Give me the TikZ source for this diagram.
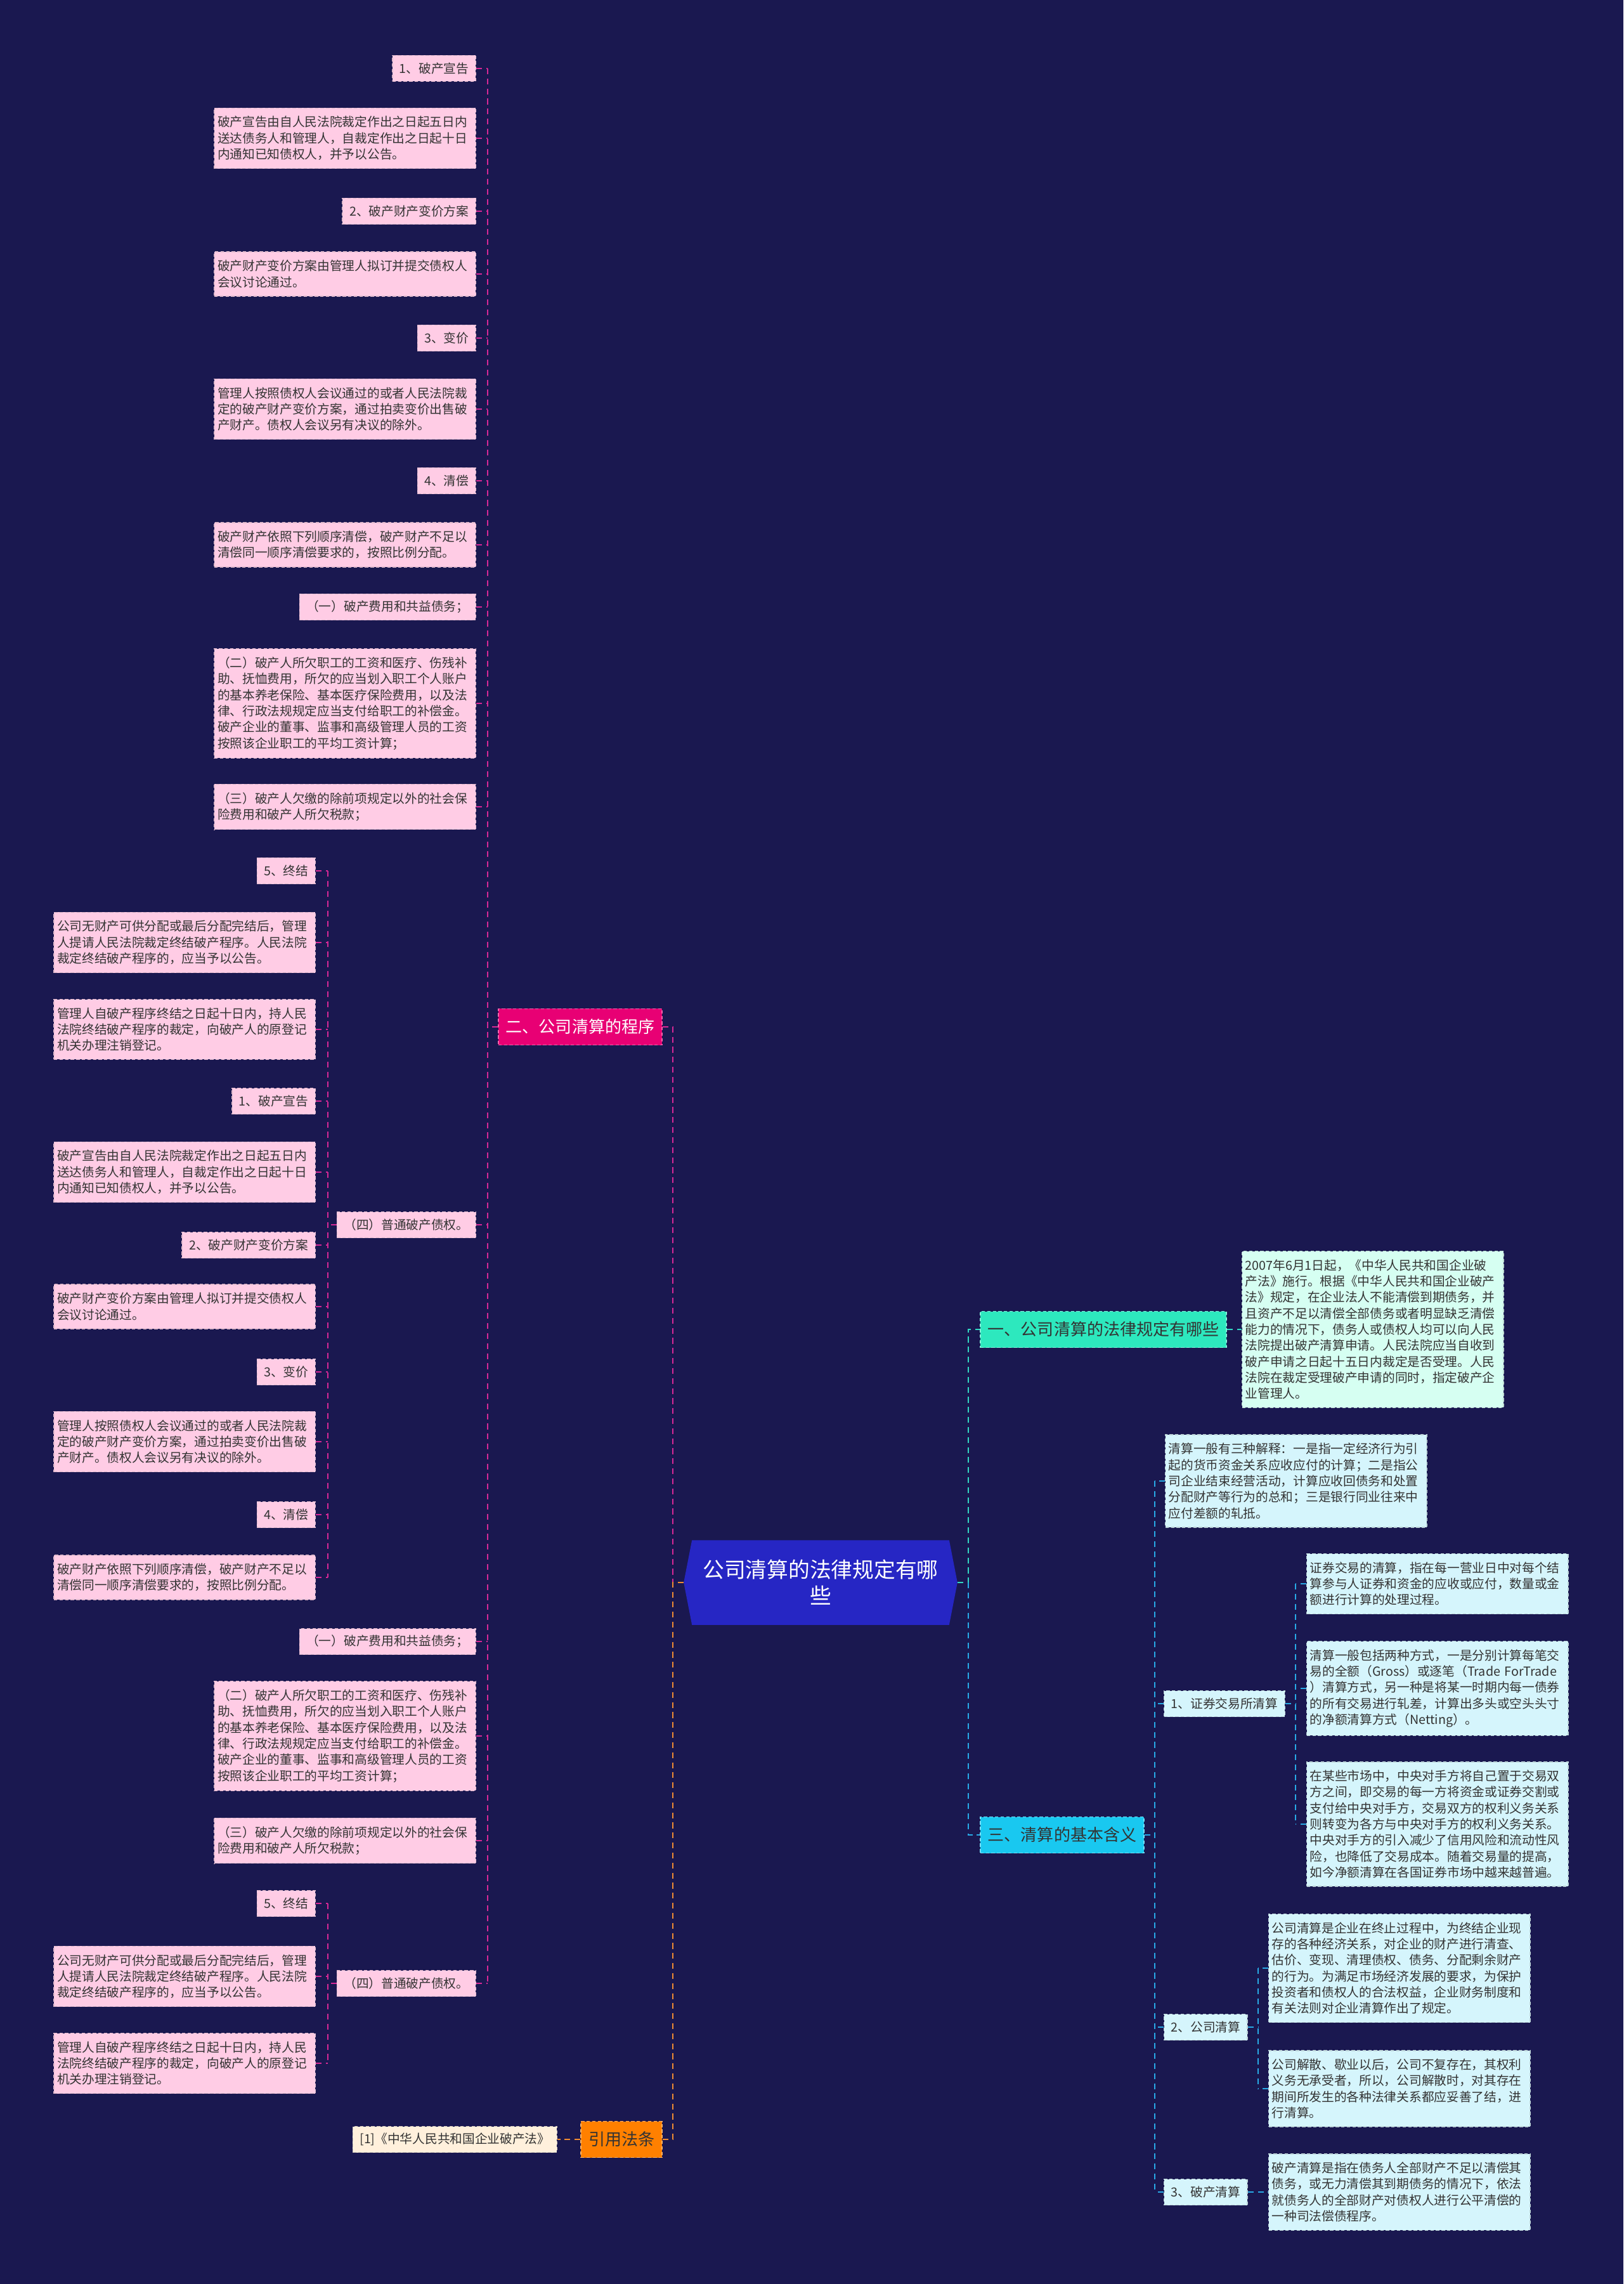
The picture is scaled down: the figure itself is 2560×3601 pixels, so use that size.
\documentclass[tikz,border=0pt]{standalone}
\usepackage{fontspec}
\setmainfont{Noto Sans CJK SC}
\usetikzlibrary{calc, backgrounds}
\definecolor{BgNavy}{RGB}{26, 24, 80}
\definecolor{HubBlue}{RGB}{38, 38, 196}
\definecolor{InkDark}{RGB}{51, 51, 51}
\definecolor{MagentaBr}{RGB}{232, 0, 116}
\definecolor{TealBr}{RGB}{45, 232, 190}
\definecolor{CyanBr}{RGB}{25, 200, 240}
\definecolor{OrangeBr}{RGB}{255, 128, 0}
\definecolor{PinkLeaf}{RGB}{255, 204, 229}
\definecolor{MintLeaf}{RGB}{214, 255, 242}
\definecolor{SkyLeaf}{RGB}{213, 245, 252}
\definecolor{CreamLeaf}{RGB}{255, 240, 220}
\definecolor{PinkLine}{RGB}{215, 40, 150}
\definecolor{TealLine}{RGB}{50, 215, 195}
\definecolor{SkyLine}{RGB}{40, 170, 230}
\definecolor{OrangeLine}{RGB}{240, 140, 50}

% repeated leaf texts
\newcommand{\txtXuangao}{破产宣告由自人民法院裁定作出之日起五日内\\送达债务人和管理人，自裁定作出之日起十日\\内通知已知债权人，并予以公告。}
\newcommand{\txtFangan}{破产财产变价方案由管理人拟订并提交债权人\\会议讨论通过。}
\newcommand{\txtBianjia}{管理人按照债权人会议通过的或者人民法院裁\\定的破产财产变价方案，通过拍卖变价出售破\\产财产。债权人会议另有决议的除外。}
\newcommand{\txtQingchang}{破产财产依照下列顺序清偿，破产财产不足以\\清偿同一顺序清偿要求的，按照比例分配。}
\newcommand{\txtDiyi}{（一）破产费用和共益债务；}
\newcommand{\txtDier}{（二）破产人所欠职工的工资和医疗、伤残补\\助、抚恤费用，所欠的应当划入职工个人账户\\的基本养老保险、基本医疗保险费用，以及法\\律、行政法规规定应当支付给职工的补偿金。\\破产企业的董事、监事和高级管理人员的工资\\按照该企业职工的平均工资计算；}
\newcommand{\txtDisan}{（三）破产人欠缴的除前项规定以外的社会保\\险费用和破产人所欠税款；}
\newcommand{\txtDisi}{（四）普通破产债权。}
\newcommand{\txtZhongjie}{公司无财产可供分配或最后分配完结后，管理\\人提请人民法院裁定终结破产程序。人民法院\\裁定终结破产程序的，应当予以公告。}
\newcommand{\txtZhuxiao}{管理人自破产程序终结之日起十日内，持人民\\法院终结破产程序的裁定，向破产人的原登记\\机关办理注销登记。}

\begin{document}
\begin{tikzpicture}[
    x=0.01cm, y=-0.01cm,
    box/.style={rectangle, text=InkDark, font=\fontsize{5.6}{7.2}\selectfont, dash pattern=on 1.5pt off 1pt, line width=0.4pt},
    leaf/.style={box, text width=4.02cm, align=left, inner xsep=0.05cm, inner ysep=0.13cm},
    tag/.style={box, minimum height=0.41cm, inner xsep=0.11cm, inner ysep=0pt},
    pk/.style={fill=PinkLeaf, draw=PinkLeaf!75!gray},
    sk/.style={fill=SkyLeaf, draw=SkyLeaf!70!gray},
    mt/.style={fill=MintLeaf, draw=MintLeaf!70!gray},
    cr/.style={fill=CreamLeaf, draw=CreamLeaf!70!gray},
    branch/.style={rectangle, font=\fontsize{7.4}{9}\selectfont, minimum height=0.57cm, inner xsep=0.12cm, inner ysep=0pt, dash pattern=on 1.5pt off 1pt, line width=0.5pt},
    hub/.style={rectangle, text=white, font=\fontsize{9.6}{11.7}\selectfont, align=center, minimum width=4.3cm, minimum height=1.32cm, inner sep=0pt},
    link/.style={dash pattern=on 2.6pt off 1.9pt, line width=0.8pt},
    pinklink/.style={link, draw=PinkLine},
    teallink/.style={link, draw=TealLine},
    skylink/.style={link, draw=SkyLine},
    orangelink/.style={link, draw=OrangeLine}
]
    \useasboundingbox (0,0) rectangle (2560,3601);

    % Centro
    \node[hub] (hub) at (1294,2495) {公司清算的法律规定有哪\\些};

    % Ramas principales
    \node[branch, fill=MagentaBr, draw=MagentaBr!60!white, text=white, anchor=east] (two) at (1045,1619) {二、公司清算的程序};
    \node[branch, fill=OrangeBr, draw=OrangeBr!60!white, text=InkDark, anchor=east] (law) at (1045,3373) {引用法条};
    \node[branch, fill=TealBr, draw=TealBr!60!white, text=InkDark, anchor=west] (one) at (1545,2096) {一、公司清算的法律规定有哪些};
    \node[branch, fill=CyanBr, draw=CyanBr!60!white, text=InkDark, anchor=west] (three) at (1545,2893) {三、清算的基本含义};

    % Columna A (二)
    \node[tag, pk, anchor=east] (a1) at (751,108) {1、破产宣告};
    \node[leaf, pk, anchor=east] (a2) at (751,218) {\txtXuangao};
    \node[tag, pk, anchor=east] (a3) at (751,333) {2、破产财产变价方案};
    \node[leaf, pk, anchor=east] (a4) at (751,432) {\txtFangan};
    \node[tag, pk, anchor=east] (a5) at (751,533) {3、变价};
    \node[leaf, pk, anchor=east] (a6) at (751,645) {\txtBianjia};
    \node[tag, pk, anchor=east] (a7) at (751,758) {4、清偿};
    \node[leaf, pk, anchor=east] (a8) at (751,859) {\txtQingchang};
    \node[tag, pk, anchor=east] (a9) at (751,957) {\txtDiyi};
    \node[leaf, pk, anchor=east] (a10) at (751,1109) {\txtDier};
    \node[leaf, pk, anchor=east] (a11) at (751,1272) {\txtDisan};
    \node[tag, pk, anchor=east] (a12) at (751,1931) {\txtDisi};
    \node[tag, pk, anchor=east] (a13) at (751,2588) {\txtDiyi};
    \node[leaf, pk, anchor=east] (a14) at (751,2737) {\txtDier};
    \node[leaf, pk, anchor=east] (a15) at (751,2902) {\txtDisan};
    \node[tag, pk, anchor=east] (a16) at (751,3127) {\txtDisi};

    % Columna B (primer 四)
    \node[tag, pk, anchor=east] (b1) at (498,1373) {5、终结};
    \node[leaf, pk, anchor=east] (b2) at (498,1486) {\txtZhongjie};
    \node[leaf, pk, anchor=east] (b3) at (498,1623) {\txtZhuxiao};
    \node[tag, pk, anchor=east] (b4) at (498,1736) {1、破产宣告};
    \node[leaf, pk, anchor=east] (b5) at (498,1848) {\txtXuangao};
    \node[tag, pk, anchor=east] (b6) at (498,1963) {2、破产财产变价方案};
    \node[leaf, pk, anchor=east] (b7) at (498,2060) {\txtFangan};
    \node[tag, pk, anchor=east] (b8) at (498,2163) {3、变价};
    \node[leaf, pk, anchor=east] (b9) at (498,2273) {\txtBianjia};
    \node[tag, pk, anchor=east] (b10) at (498,2388) {4、清偿};
    \node[leaf, pk, anchor=east] (b11) at (498,2487) {\txtQingchang};

    % Columna C (segundo 四)
    \node[tag, pk, anchor=east] (c1) at (498,3001) {5、终结};
    \node[leaf, pk, anchor=east] (c2) at (498,3116) {\txtZhongjie};
    \node[leaf, pk, anchor=east] (c3) at (498,3253) {\txtZhuxiao};

    % Referencia
    \node[tag, cr, anchor=east] (ref) at (879,3373) {[1]《中华人民共和国企业破产法》};

    % Lado derecho
    \node[leaf, mt, anchor=west] (oneleaf) at (1958,2096) {2007年6月1日起，《中华人民共和国企业破\\产法》施行。根据《中华人民共和国企业破产\\法》规定，在企业法人不能清偿到期债务，并\\且资产不足以清偿全部债务或者明显缺乏清偿\\能力的情况下，债务人或债权人均可以向人民\\法院提出破产清算申请。人民法院应当自收到\\破产申请之日起十五日内裁定是否受理。人民\\法院在裁定受理破产申请的同时，指定破产企\\业管理人。};
    \node[leaf, sk, anchor=west] (r1) at (1837,2335) {清算一般有三种解释：一是指一定经济行为引\\起的货币资金关系应收应付的计算；二是指公\\司企业结束经营活动，计算应收回债务和处置\\分配财产等行为的总和；三是银行同业往来中\\应付差额的轧抵。};
    \node[tag, sk, anchor=west] (r2) at (1835,2686) {1、证券交易所清算};
    \node[leaf, sk, anchor=west] (r2a) at (2060,2497) {证券交易的清算，指在每一营业日中对每个结\\算参与人证券和资金的应收或应付，数量或金\\额进行计算的处理过程。};
    \node[leaf, sk, anchor=west] (r2b) at (2060,2662) {清算一般包括两种方式，一是分别计算每笔交\\易的全额（Gross）或逐笔（Trade~ForTrade\\）清算方式，另一种是将某一时期内每一债券\\的所有交易进行轧差，计算出多头或空头头寸\\的净额清算方式（Netting）。};
    \node[leaf, sk, anchor=west] (r2c) at (2060,2876) {在某些市场中，中央对手方将自己置于交易双\\方之间，即交易的每一方将资金或证券交割或\\支付给中央对手方，交易双方的权利义务关系\\则转变为各方与中央对手方的权利义务关系。\\中央对手方的引入减少了信用风险和流动性风\\险，也降低了交易成本。随着交易量的提高，\\如今净额清算在各国证券市场中越来越普遍。};
    \node[tag, sk, anchor=west] (r3) at (1835,3196) {2、公司清算};
    \node[leaf, sk, anchor=west] (r3a) at (2000,3103) {公司清算是企业在终止过程中，为终结企业现\\存的各种经济关系，对企业的财产进行清查、\\估价、变现、清理债权、债务、分配剩余财产\\的行为。为满足市场经济发展的要求，为保护\\投资者和债权人的合法权益，企业财务制度和\\有关法则对企业清算作出了规定。};
    \node[leaf, sk, anchor=west] (r3b) at (2000,3293) {公司解散、歇业以后，公司不复存在，其权利\\义务无承受者，所以，公司解散时，对其存在\\期间所发生的各种法律关系都应妥善了结，进\\行清算。};
    \node[tag, sk, anchor=west] (r4) at (1835,3456) {3、破产清算};
    \node[leaf, sk, anchor=west] (r4a) at (2000,3456) {破产清算是指在债务人全部财产不足以清偿其\\债务，或无力清偿其到期债务的情况下，依法\\就债务人的全部财产对债权人进行公平清偿的\\一种司法偿债程序。};

    % Troncos
    \coordinate (trunkL) at (1061,0);
    \coordinate (trunkR) at (1527,0);
    \coordinate (trunkA) at (769,0);
    \coordinate (trunkB) at (517,0);
    \coordinate (trunkT) at (1821,0);
    \coordinate (trunkS) at (2043,0);
    \coordinate (trunkC) at (1984,0);

    % Conexiones
    \draw[pinklink] (two.east) -- (trunkL |- two.east) -- (trunkL |- hub.west);
    \draw[orangelink] (hub.west) -- (trunkL |- hub.west) -- (trunkL |- law.east) -- (law.east);
    \draw[orangelink] (law.west) -- (ref.east);
    \draw[teallink] (hub.east) -- (trunkR |- hub.east) -- (trunkR |- one.west) -- (one.west);
    \draw[skylink] (trunkR |- hub.east) -- (trunkR |- three.west) -- (three.west);
    \draw[teallink] (one.east) -- (oneleaf.west);

    \draw[pinklink] (two.west) -- (trunkA |- two.west);
    \draw[pinklink] (trunkA |- a1.east) -- (trunkA |- a16.east);
    \foreach \c in {a1,a2,a3,a4,a5,a6,a7,a8,a9,a10,a11,a12,a13,a14,a15,a16}
        \draw[pinklink] (\c.east) -- (trunkA |- \c.east);

    \draw[pinklink] (a12.west) -- (trunkB |- a12.west);
    \draw[pinklink] (trunkB |- b1.east) -- (trunkB |- b11.east);
    \foreach \c in {b1,b2,b3,b4,b5,b6,b7,b8,b9,b10,b11}
        \draw[pinklink] (\c.east) -- (trunkB |- \c.east);

    \draw[pinklink] (a16.west) -- (trunkB |- a16.west);
    \draw[pinklink] (trunkB |- c1.east) -- (trunkB |- c3.east);
    \foreach \c in {c1,c2,c3}
        \draw[pinklink] (\c.east) -- (trunkB |- \c.east);

    \draw[skylink] (three.east) -- (trunkT |- three.east);
    \draw[skylink] (trunkT |- r1.west) -- (trunkT |- r4.west);
    \foreach \c in {r1,r2,r3,r4}
        \draw[skylink] (\c.west) -- (trunkT |- \c.west);

    \draw[skylink] (r2.east) -- (trunkS |- r2.east);
    \draw[skylink] (trunkS |- r2a.west) -- (trunkS |- r2c.west);
    \foreach \c in {r2a,r2b,r2c}
        \draw[skylink] (\c.west) -- (trunkS |- \c.west);

    \draw[skylink] (r3.east) -- (trunkC |- r3.east);
    \draw[skylink] (trunkC |- r3a.west) -- (trunkC |- r3b.west);
    \foreach \c in {r3a,r3b}
        \draw[skylink] (\c.west) -- (trunkC |- \c.west);

    \draw[skylink] (r4.east) -- (r4a.west);

    % Fondo y forma del centro
    \begin{scope}[on background layer]
        \fill[BgNavy] (0,0) rectangle (2560,3601);
        \fill[HubBlue] ($(hub.north west)+(13,0)$) -- ($(hub.north east)+(-13,0)$) -- (hub.east)
            -- ($(hub.south east)+(-13,0)$) -- ($(hub.south west)+(13,0)$) -- (hub.west) -- cycle;
    \end{scope}
\end{tikzpicture}
\end{document}
